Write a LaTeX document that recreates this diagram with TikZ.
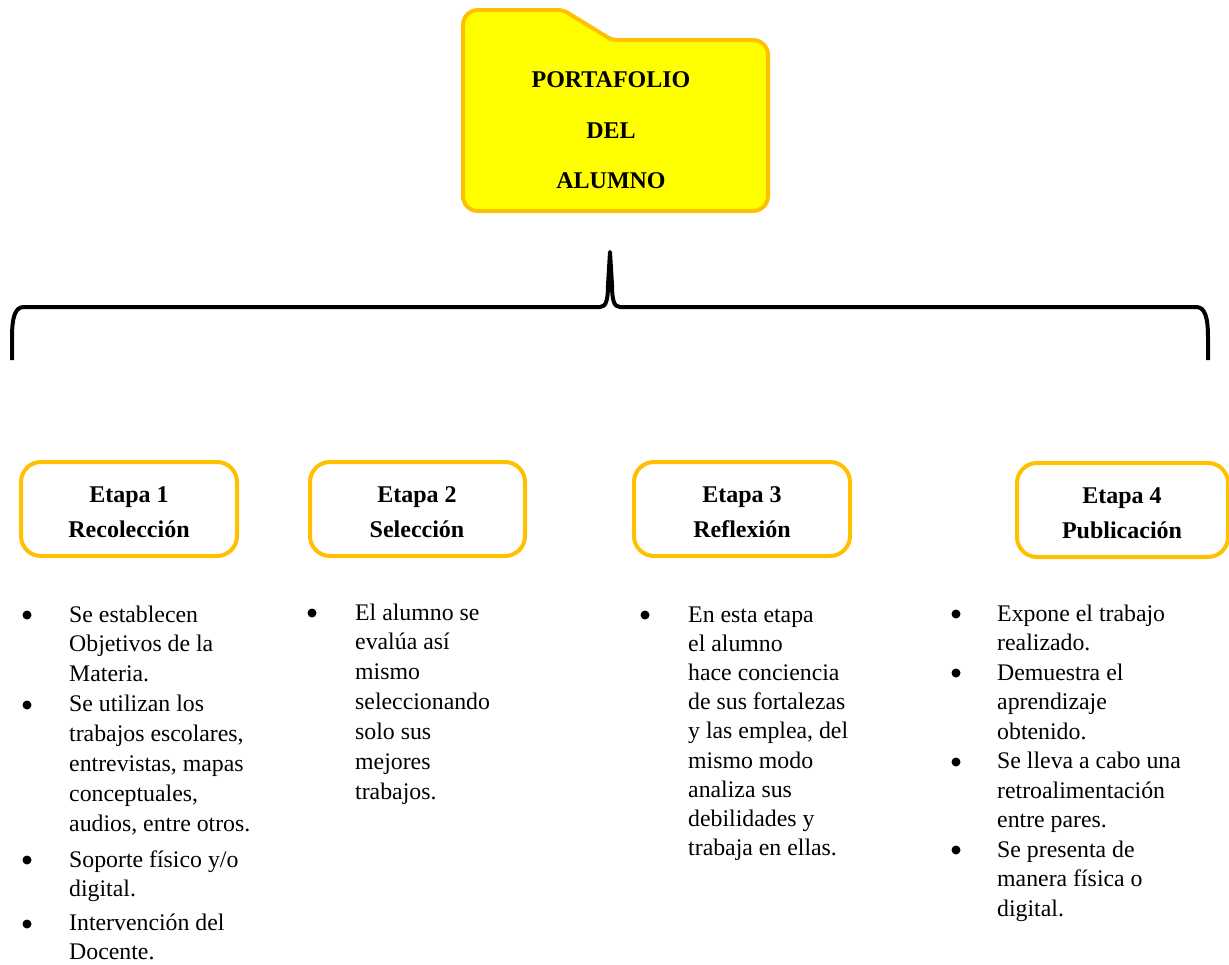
\documentclass[tikz,border=0pt]{standalone}
\usepackage{fontspec}
\setmainfont{Liberation Serif}
\definecolor{gold}{HTML}{FFC000}
\definecolor{folderfill}{HTML}{FFFF00}
\tikzset{
  bodytext/.style={anchor=base west, inner sep=0pt, font=\fontsize{23.8}{29}\selectfont},
  titletext/.style={anchor=base, inner sep=0pt, font=\fontsize{24}{29}\selectfont\bfseries},
  bulletdot/.style={circle, fill=black, inner sep=0pt, minimum size=9pt},
  stagebox/.style={draw=gold, line width=4pt, rounded corners=20pt},
  bracepath/.style={draw=black, line width=4pt, line join=round},
}
\begin{document}
\begin{tikzpicture}[x=1pt, y=-1pt]
\useasboundingbox (0,0) rectangle (1229,964);

% folder
\draw[draw=gold, fill=folderfill, line width=4pt, rounded corners=15pt]
  (463,120) -- (463,10) [rounded corners=5pt] -- (563,10) -- (612,40) [rounded corners=15pt] -- (768,40) -- (768,211) -- (463,211) -- cycle;
\node[titletext] (f1) at (611,87) {PORTAFOLIO};
\node[titletext] (f2) at (611,138) {DEL};
\node[titletext] (f3) at (611,188) {ALUMNO};

% brace
\draw[bracepath] (12,360) -- (12,338) .. controls (12,317) and (15,307) .. (24,307)
  -- (600,307) .. controls (606,307) and (608,300) .. (608,285) -- (610,252)
  -- (612,285) .. controls (612,300) and (614,307) .. (620,307)
  -- (1196,307) .. controls (1205,307) and (1208,317) .. (1208,338) -- (1208,360);

% stage boxes
\draw[stagebox] (21,462) rectangle (237,556);
\draw[stagebox] (310,462) rectangle (525,556);
\draw[stagebox] (634,462) rectangle (850,556);
\draw[stagebox] (1017,463) rectangle (1228,557);
\node[titletext] (e1a) at (129,502) {Etapa 1};
\node[titletext] (e1b) at (129,537) {Recolección};
\node[titletext] (e2a) at (417,502) {Etapa 2};
\node[titletext] (e2b) at (417,537) {Selección};
\node[titletext] (e3a) at (742,502) {Etapa 3};
\node[titletext] (e3b) at (742,537) {Reflexión};
\node[titletext] (e4a) at (1122,503) {Etapa 4};
\node[titletext] (e4b) at (1122,538) {Publicación};

% column 1
\foreach \t [count=\i] in {Se establecen, Objetivos de la, Materia., Se utilizan los, trabajos escolares{,}, entrevistas{,} mapas, conceptuales{,}, audios{,} entre otros.}
  \node[bodytext] (ca\i) at (69,{622+29.9*(\i-1)}) {\t};
\node[bodytext] (ca9) at (69,867) {Soporte físico y/o};
\node[bodytext] (ca10) at (69,896) {digital.};
\node[bodytext] (ca11) at (69,930) {Intervención del};
\node[bodytext] (ca12) at (69,959) {Docente.};
\node[bulletdot] (ba1) at (27,615) {};
\node[bulletdot] (ba2) at (27,705) {};
\node[bulletdot] (ba3) at (27,860) {};
\node[bulletdot] (ba4) at (27,924) {};

% column 2
\foreach \t [count=\i] in {El alumno se, evalúa así, mismo, seleccionando, solo sus, mejores, trabajos.}
  \node[bodytext] (cb\i) at (355,{620+29.9*(\i-1)}) {\t};
\node[bulletdot] (bb1) at (312,613) {};

% column 3
\foreach \t [count=\i] in {En esta etapa, el alumno, hace conciencia, de sus fortalezas, y las emplea{,} del, mismo modo, analiza sus, debilidades y, trabaja en ellas.}
  \node[bodytext] (cc\i) at (688,{622+29.2*(\i-1)}) {\t};
\node[bulletdot] (bc1) at (645,615) {};

% column 4
\foreach \t [count=\i] in {Expone el trabajo, realizado., Demuestra el, aprendizaje, obtenido., Se lleva a cabo una, retroalimentación, entre pares., Se presenta de, manera física o, digital.}
  \node[bodytext] (cd\i) at (997,{621+29.5*(\i-1)}) {\t};
\node[bulletdot] (bd1) at (956,614) {};
\node[bulletdot] (bd2) at (956,673) {};
\node[bulletdot] (bd3) at (956,762) {};
\node[bulletdot] (bd4) at (956,850) {};
\end{tikzpicture}
\end{document}
